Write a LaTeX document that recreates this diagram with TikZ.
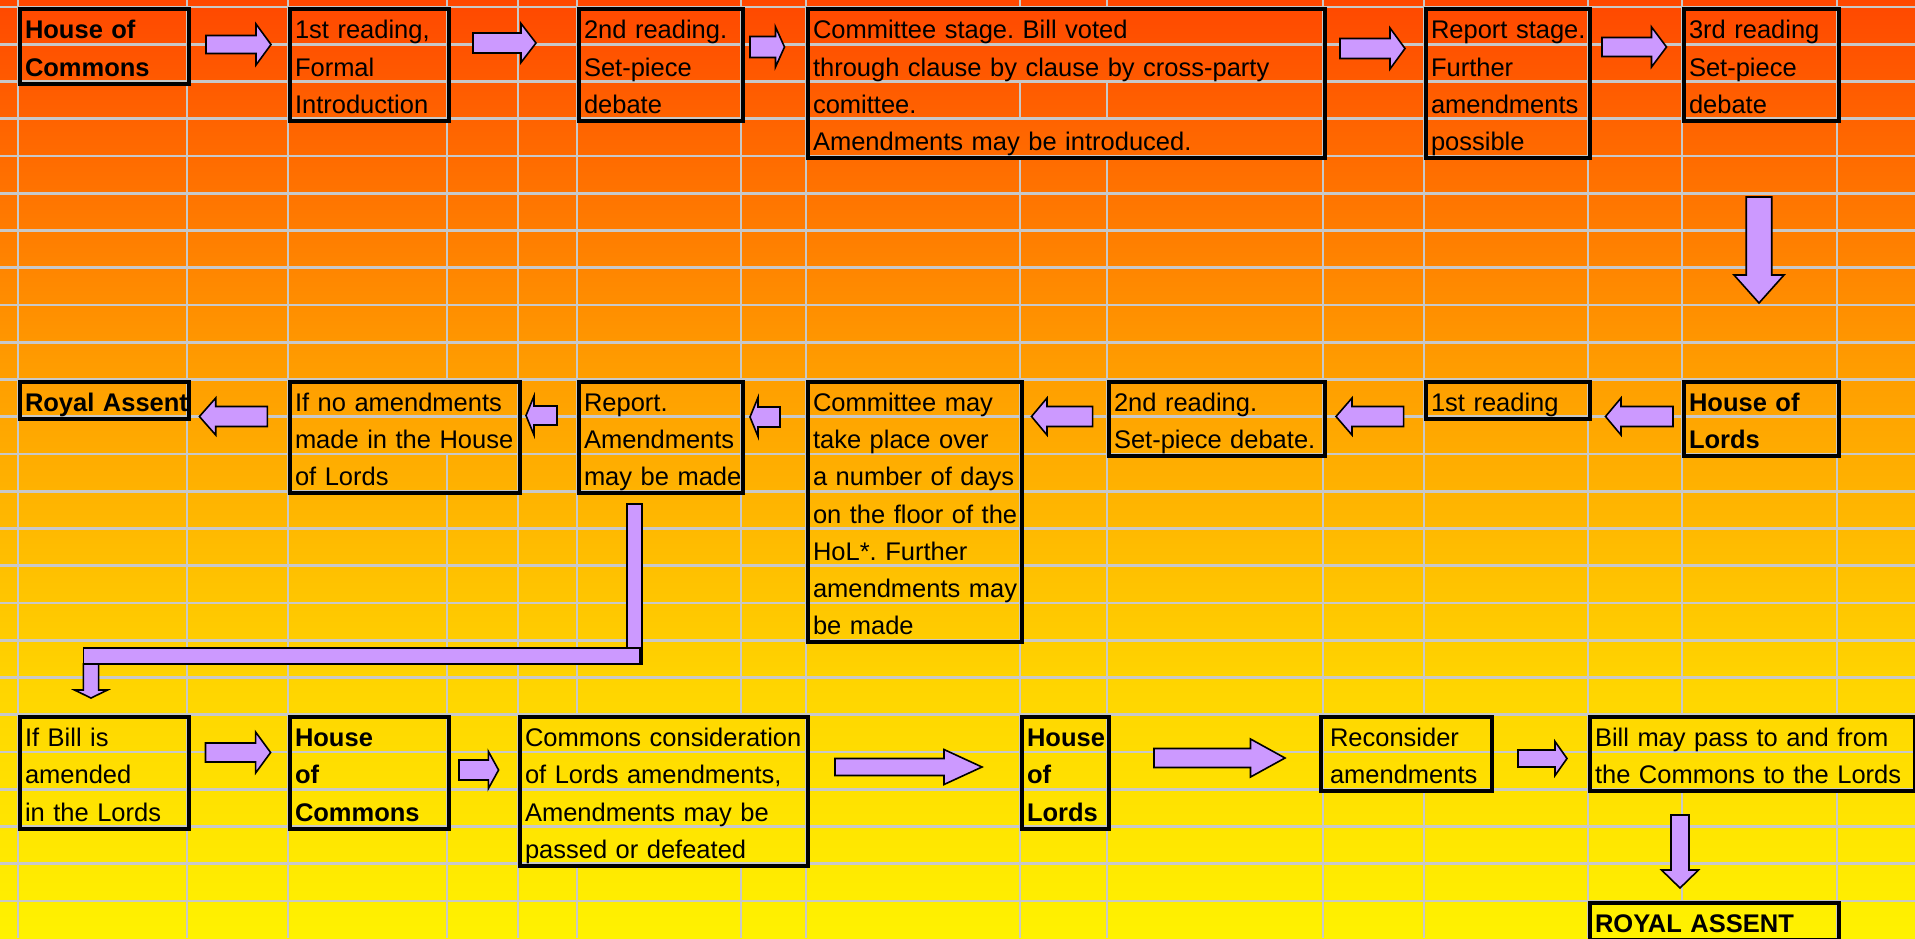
\documentclass[tikz,border=0pt]{standalone}
\usepackage{fontspec}
\setmainfont{Liberation Sans}
\frenchspacing
\definecolor{gridc}{RGB}{200,200,200}
\definecolor{lilac}{RGB}{204,153,255}
\definecolor{g0}{RGB}{255,72,0}
\definecolor{g1}{RGB}{255,115,0}
\definecolor{g2}{RGB}{255,155,0}
\definecolor{g3}{RGB}{255,212,0}
\definecolor{g4}{RGB}{255,242,0}
\newcommand\RT[1]{\mbox{\rule[-7.5pt]{0pt}{37.25pt}#1}}
% right/left block arrow: tail x, head-base x, tip x, centre y, shaft half, head half
\newcommand\HA[6]{\filldraw[blk] (#1,#4-#5) -- (#2,#4-#5) -- (#2,#4-#6) -- (#3,#4) -- (#2,#4+#6) -- (#2,#4+#5) -- (#1,#4+#5) -- cycle;}
% down block arrow: centre x, tail y, head-base y, tip y, shaft half, head half
\newcommand\VA[6]{\filldraw[blk] (#1-#5,#2) -- (#1+#5,#2) -- (#1+#5,#3) -- (#1+#6,#3) -- (#1,#4) -- (#1-#6,#3) -- (#1-#5,#3) -- cycle;}
\tikzset{
  box/.style={draw=black, line width=4pt, anchor=north west, inner xsep=5pt, inner ysep=0pt,
    align=left, font=\fontsize{25.5}{37.25}\selectfont\frenchspacing},
  blk/.style={fill=lilac, draw=black, line width=1.6pt, line join=miter},
  gridline/.style={draw=gridc, line width=2.6pt},
}
\begin{document}
\begin{tikzpicture}[x=1pt,y=-1pt]
\useasboundingbox (0,0) rectangle (1915,938);
\clip (0,0) rectangle (1915,938);
% background gradient
\shade[top color=g0,bottom color=g1] (0,0) rectangle (1915,191);
\shade[top color=g1,bottom color=g2] (0,190) rectangle (1915,361);
\shade[top color=g2,bottom color=g3] (0,360) rectangle (1915,681);
\shade[top color=g3,bottom color=g4] (0,680) rectangle (1915,938);
% spreadsheet grid (vertical lines hidden where cell text overflows)
\foreach \x in {18,187,288,518,806,1323,1588}
  \draw[gridline] (\x,0) -- (\x,938);
\draw[gridline] (1020,0) -- (1020,7) (1020,81.5) -- (1020,118.75) (1020,156) -- (1020,938);
\draw[gridline] (1107,0) -- (1107,7) (1107,81.5) -- (1107,118.75) (1107,156) -- (1107,938);
\draw[gridline] (447,0) -- (447,379.5) (447,454) -- (447,938);
\draw[gridline] (577,0) -- (577,714.75) (577,863.75) -- (577,938);
\draw[gridline] (741,0) -- (741,714.75) (741,863.75) -- (741,938);
\draw[gridline] (1424,0) -- (1424,714.75) (1424,789.25) -- (1424,938);
\draw[gridline] (1682,0) -- (1682,714.75) (1682,789.25) -- (1682,901);
\draw[gridline] (1837,0) -- (1837,714.75) (1837,789.25) -- (1837,938);
\foreach \k in {0,...,24}
  \draw[gridline] (0,7+37.25*\k) -- (1915,7+37.25*\k);

% ---- House of Commons row ----
\node[box, text width=159pt, minimum height=74.5pt] (a1) at (18,7) {\RT{\bfseries House of}\\\RT{\bfseries Commons}};
\node[box, text width=149pt, minimum height=111.75pt] (a2) at (288,7) {\RT{1st reading,}\\\RT{Formal}\\\RT{Introduction}};
\node[box, text width=154pt, minimum height=111.75pt] (a3) at (577,7) {\RT{2nd reading.}\\\RT{Set-piece}\\\RT{debate}};
\node[box, text width=507pt, minimum height=149pt] (a4) at (806,7) {\RT{Committee stage. Bill voted}\\\RT{through clause by clause by cross-party}\\\RT{comittee.}\\\RT{Amendments may be introduced.}};
\node[box, text width=154pt, minimum height=149pt] (a5) at (1424,7) {\RT{Report stage.}\\\RT{Further}\\\RT{amendments}\\\RT{possible}};
\node[box, text width=145pt, minimum height=111.75pt] (a6) at (1682,7) {\RT{3rd reading}\\\RT{Set-piece}\\\RT{debate}};

% ---- House of Lords row ----
\node[box, text width=159pt, minimum height=37.25pt] (b1) at (18,379.5) {\RT{\bfseries Royal Assent}};
\node[box, text width=220pt, minimum height=111.75pt] (b2) at (288,379.5) {\RT{If no amendments}\\\RT{made in the House}\\\RT{of Lords}};
\node[box, text width=154pt, minimum height=111.75pt] (b3) at (577,379.5) {\RT{Report.}\\\RT{Amendments}\\\RT{may be made}};
\node[box, text width=204pt, minimum height=260.75pt] (b4) at (806,379.5) {\RT{Committee may}\\\RT{take place over}\\\RT{a number of days}\\\RT{on the floor of the}\\\RT{HoL*. Further}\\\RT{amendments may}\\\RT{be made}};
\node[box, text width=206pt, minimum height=74.5pt] (b5) at (1107,379.5) {\RT{2nd reading.}\\\RT{Set-piece debate.}};
\node[box, text width=154pt, minimum height=37.25pt] (b6) at (1424,379.5) {\RT{1st reading}};
\node[box, text width=145pt, minimum height=74.5pt] (b7) at (1682,379.5) {\RT{\bfseries House of}\\\RT{\bfseries Lords}};

% ---- amendments row ----
\node[box, text width=159pt, minimum height=111.75pt] (c1) at (18,714.75) {\RT{If Bill is}\\\RT{amended}\\\RT{in the Lords}};
\node[box, text width=149pt, minimum height=111.75pt] (c2) at (288,714.75) {\RT{\bfseries House}\\\RT{\bfseries of}\\\RT{\bfseries Commons}};
\node[box, text width=278pt, minimum height=149pt] (c3) at (518,714.75) {\RT{Commons consideration}\\\RT{of Lords amendments,}\\\RT{Amendments may be}\\\RT{passed or defeated}};
\node[box, text width=77pt, minimum height=111.75pt] (c4) at (1020,714.75) {\RT{\bfseries House}\\\RT{\bfseries of}\\\RT{\bfseries Lords}};
\node[box, inner xsep=9pt, text width=153pt, minimum height=74.5pt] (c5) at (1319,714.75) {\RT{Reconsider}\\\RT{amendments}};
\node[box, text width=315pt, minimum height=74.5pt] (c6) at (1588,714.75) {\RT{Bill may pass to and from}\\\RT{the Commons to the Lords}};
\node[box, text width=239pt, minimum height=37.25pt] (c7) at (1588,901) {\RT{\bfseries ROYAL ASSENT}};

% ---- block arrows, top row ----
\HA{206}{256}{271}{44.5}{9}{20.5}
\HA{473}{521}{536}{43}{10}{19.5}
\HA{750}{775.5}{784.5}{47}{10.5}{20}
\HA{1340}{1390}{1405}{48.5}{10}{20.5}
\HA{1602}{1651.5}{1666.5}{47}{9.5}{20}
\VA{1759}{197}{275}{303}{12.75}{25}
% ---- block arrows, middle row (leftwards) ----
\HA{1673}{1621}{1605.5}{416.5}{10}{18.5}
\HA{1403.6}{1352}{1336}{416.5}{10}{18.5}
\HA{1092.6}{1047}{1031.5}{416.5}{10}{18.5}
\HA{780}{758}{750}{417}{10}{19.5}
\HA{557}{534}{526}{415.5}{9.5}{19.5}
\HA{267.4}{215.7}{199.4}{416.5}{10}{18.5}
% ---- bent arrow from Report down to If Bill is amended ----
\filldraw[blk] (627,504) rectangle (642,664);
\filldraw[blk] (83.4,648) rectangle (640,664);
\VA{91}{664}{690}{698}{7.6}{16.5}
% ---- block arrows, bottom row ----
\HA{205.5}{255.6}{270.6}{752.5}{9.5}{20.5}
\HA{459}{488.4}{498.6}{770}{10}{18.5}
\HA{835}{944}{982}{767}{8.5}{17.5}
\HA{1154}{1250.5}{1285}{758}{9.5}{19}
\HA{1518}{1555}{1567}{758.5}{8.5}{17}
\VA{1680}{815}{870}{888}{9}{18.5}
\end{tikzpicture}
\end{document}
